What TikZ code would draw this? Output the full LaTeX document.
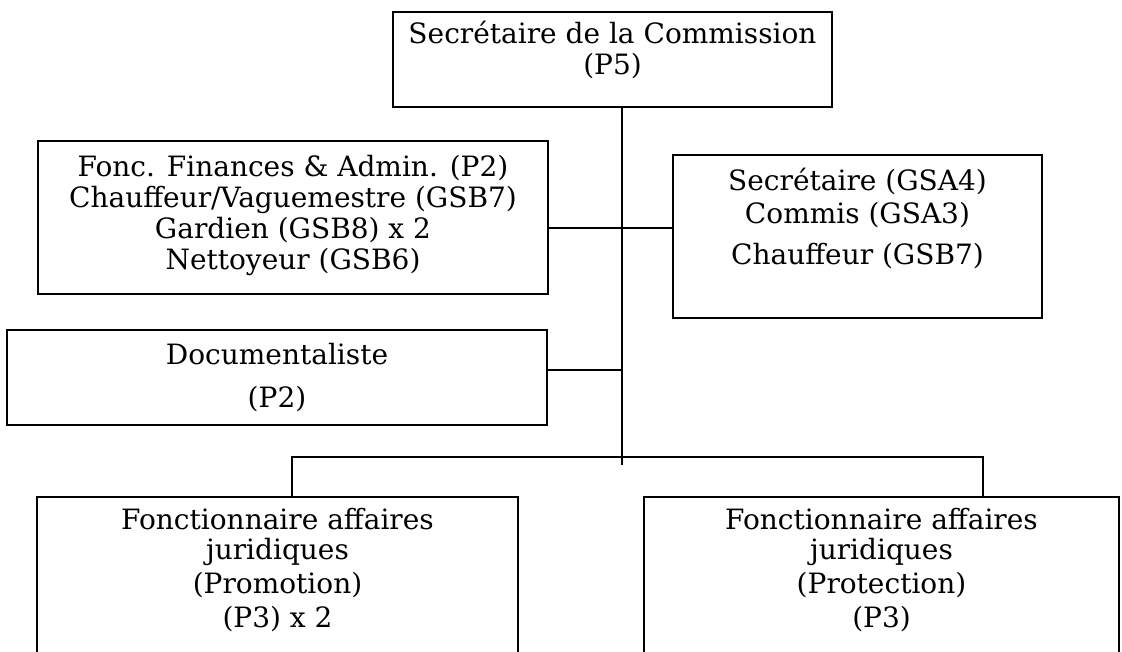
\documentclass[tikz,border=0pt]{standalone}
\usepackage{fontspec}
\setmainfont{DejaVu Serif}
\tikzset{
  post/.style={draw, line width=1.5pt, inner sep=0pt, font=\fontsize{21}{23.25}\selectfont},
  wire/.style={line width=1.5pt},
}
\newcommand{\postbody}[4]{\parbox[c][#2][t]{#1}{\centering\rule{0pt}{#3}#4}}

\begin{document}
\begin{tikzpicture}[x=0.75pt, y=-0.75pt]
  \useasboundingbox (0,0) rectangle (1122,651);
  \clip (0,0) rectangle (1122,651);
  \node[post] (chef) at (612.5,59.5) {\postbody{329.25pt}{71.25pt}{23.25pt}{Secrétaire de la Commission\\(P5)}};
  \node[post] (fonc) at (293,217.5) {\postbody{382.5pt}{114.75pt}{26.25pt}{Fonc. Finances \& Admin. (P2)\\Chauffeur/Vaguemestre (GSB7)\\Gardien (GSB8) x 2\\Nettoyeur (GSB6)}};
  \node[post] (secr) at (857.5,236.5) {\postbody{276.75pt}{122.25pt}{26.25pt}{Secrétaire (GSA4)\\[1.5pt]Commis (GSA3)\\[7.5pt]Chauffeur (GSB7)}};
  \node[post] (doc) at (277,377.5) {\postbody{405pt}{71.25pt}{25.5pt}{Documentaliste\\[9pt](P2)}};
  \node[post] (promo) at (277.5,598.5) {\postbody{360.75pt}{152.25pt}{24pt}{Fonctionnaire affaires\\[-0.75pt]juridiques\\[2.25pt](Promotion)\\[2.25pt](P3) x 2}};
  \node[post] (protec) at (881.5,598.5) {\postbody{356.25pt}{152.25pt}{24pt}{Fonctionnaire affaires\\[-0.75pt]juridiques\\[2.25pt](Protection)\\[2.25pt](P3)}};
  \coordinate (link) at (622,228);
  \coordinate (docjoin) at (622,370);
  \coordinate (busL) at (292,457);
  \coordinate (busR) at (983,457);
  \coordinate (trunkend) at (622,465);
  \draw[wire] (chef.south -| trunkend) -- (trunkend);
  \draw[wire] (fonc.east |- link) -- (secr.west |- link);
  \draw[wire] (doc.east |- docjoin) -- (docjoin);
  \draw[wire] (promo.north -| busL) -- (busL) -- (busR) -- (protec.north -| busR);
\end{tikzpicture}
\end{document}
